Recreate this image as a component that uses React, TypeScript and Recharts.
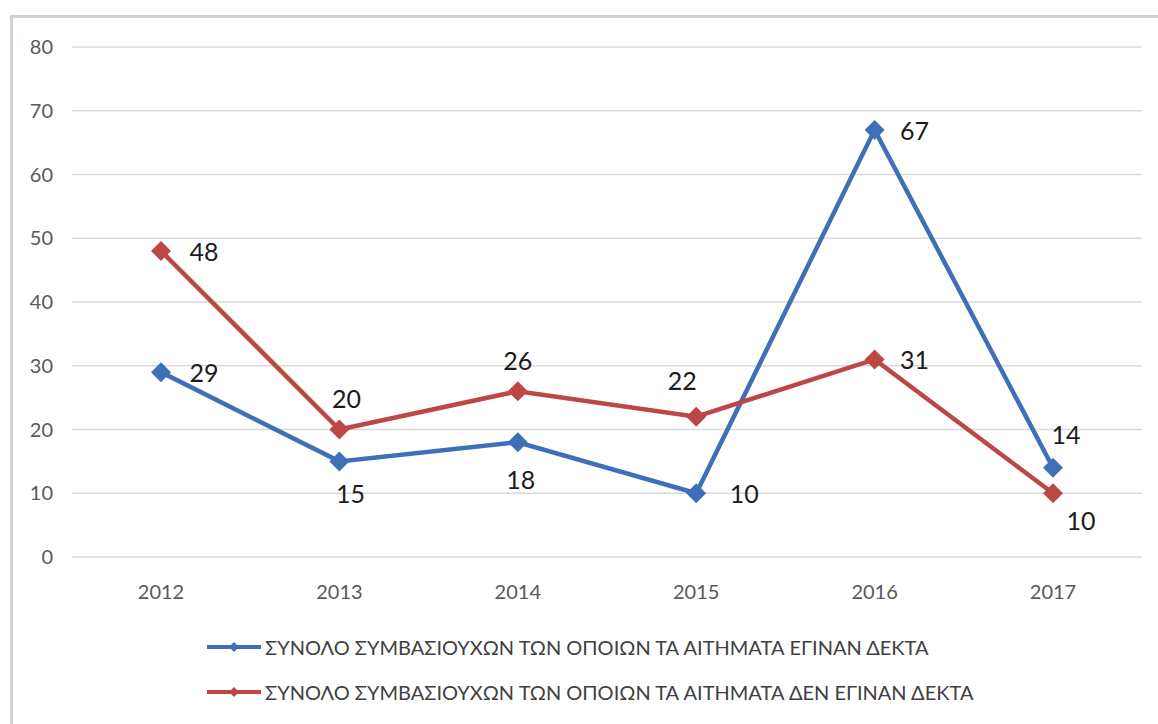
import { LineChart, Line, XAxis, YAxis, CartesianGrid, Legend, LabelList } from "recharts";

const years = ["2012", "2013", "2014", "2015", "2016", "2017"];
const accepted = [29, 15, 18, 10, 67, 14];
const rejected = [48, 20, 26, 22, 31, 10];
const yTicks = [0, 10, 20, 30, 40, 50, 60, 70, 80];

const SERIES = [
  { key: "accepted", name: "ΣΥΝΟΛΟ ΣΥΜΒΑΣΙΟΥΧΩΝ ΤΩΝ ΟΠΟΙΩΝ ΤΑ ΑΙΤΗΜΑΤΑ ΕΓΙΝΑΝ ΔΕΚΤΑ", color: "#3e70b8" },
  { key: "rejected", name: "ΣΥΝΟΛΟ ΣΥΜΒΑΣΙΟΥΧΩΝ ΤΩΝ ΟΠΟΙΩΝ ΤΑ ΑΙΤΗΜΑΤΑ ΔΕΝ ΕΓΙΝΑΝ ΔΕΚΤΑ", color: "#bd4745" },
];

// label offsets (dx, dy) from each marker, like the Excel placement
const labelOffsets: Record<string, [number, number][]> = {
  accepted: [[43, 0], [11, 32], [3, 37], [48, 0], [40, 0], [13, -34]],
  rejected: [[43, 0], [7, -32], [0, -31], [-14, -37], [40, 0], [28, 27]],
};

const data = years.map((year, i) => ({ year, accepted: accepted[i], rejected: rejected[i] }));

const FONT = "Lato, 'Open Sans', sans-serif";

function Diamond(props: any) {
  const { cx, cy, stroke, index, r = 10 } = props;
  if (cx == null || cy == null) return null;
  return (
    <polygon
      key={`dm-${index}`}
      points={`${cx},${cy - r} ${cx + r},${cy} ${cx},${cy + r} ${cx - r},${cy}`}
      fill={stroke}
    />
  );
}

function makeLabel(key: string) {
  return (props: any) => {
    const { x, y, value, index } = props;
    const [dx, dy] = labelOffsets[key][index];
    return (
      <text
        x={x + dx}
        y={y + dy}
        textAnchor="middle"
        dominantBaseline="central"
        fontSize={25}
        fill="#1c1c1c"
        fontFamily={FONT}
      >
        {value}
      </text>
    );
  };
}

function LegendRows() {
  return (
    <div style={{ fontFamily: FONT }}>
      {SERIES.map((s) => (
        <div key={s.key} style={{ display: "flex", alignItems: "center", height: 45 }}>
          <svg width={58} height={14} style={{ flex: "none" }}>
            <line x1={2} y1={7} x2={56} y2={7} stroke={s.color} strokeWidth={4} />
            <polygon points="29,2 34,7 29,12 24,7" fill={s.color} />
          </svg>
          <span style={{ fontSize: 20, color: "#404040", marginLeft: 2, whiteSpace: "nowrap" }}>{s.name}</span>
        </div>
      ))}
    </div>
  );
}

export default function App() {
  return (
    <div style={{ position: "absolute", left: 0, top: 0, width: 1158, height: 724, background: "#fff", overflow: "hidden" }}>
      <div
        style={{
          position: "absolute",
          left: 10,
          top: 15,
          width: 1200,
          height: 760,
          borderLeft: "3px solid #d2d2d2",
          borderTop: "3px solid #d2d2d2",
        }}
      />
      <div style={{ position: "absolute", left: 0, top: 0 }}>
        <LineChart width={1158} height={724} data={data} margin={{ top: 47, right: 16, bottom: 137, left: 0 }}>
          <CartesianGrid vertical={false} stroke="#d9d9d9" strokeWidth={1.5} />
          <XAxis
            dataKey="year"
            axisLine={false}
            tickLine={false}
            tickSize={28}
            tickMargin={0}
            height={30}
            padding={{ left: 89, right: 89 }}
            tick={{ fill: "#595959", fontSize: 20, fontFamily: FONT }}
          />
          <YAxis
            domain={[0, 80]}
            ticks={yTicks}
            axisLine={false}
            tickLine={false}
            tickSize={19}
            tickMargin={0}
            width={72}
            tick={{ fill: "#595959", fontSize: 20, fontFamily: FONT }}
          />
          <Legend
            layout="vertical"
            align="center"
            verticalAlign="middle"
            content={() => <LegendRows />}
            wrapperStyle={{ position: "absolute", left: 205, top: 624, width: 940, height: 90 }}
          />
          {SERIES.map((s) => (
            <Line
              key={s.key}
              dataKey={s.key}
              name={s.name}
              stroke={s.color}
              strokeWidth={4.5}
              dot={<Diamond r={10} />}
              activeDot={false}
              isAnimationActive={false}
            >
              <LabelList dataKey={s.key} content={makeLabel(s.key)} />
            </Line>
          ))}
        </LineChart>
      </div>
    </div>
  );
}
